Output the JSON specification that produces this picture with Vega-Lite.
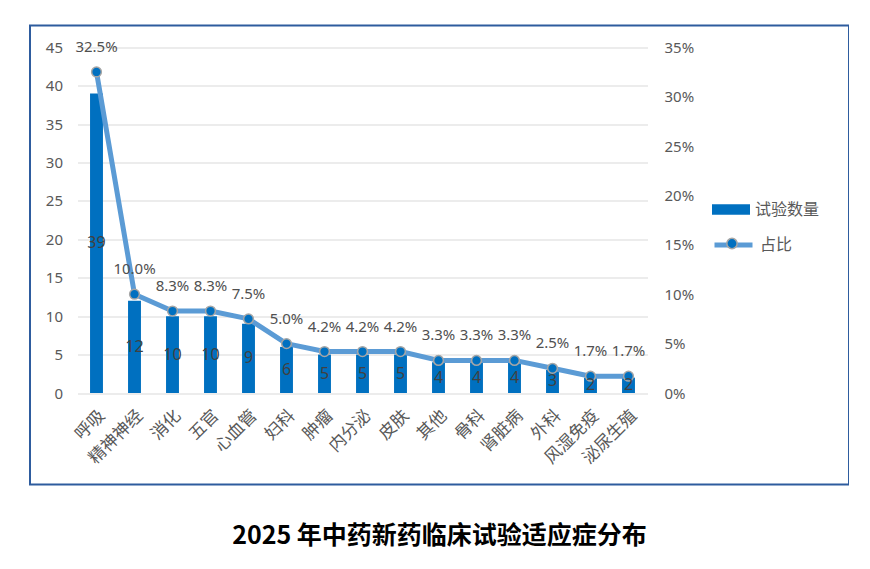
{
  "$schema": "https://vega.github.io/schema/vega-lite/v6.json",
  "width": 819,
  "height": 459,
  "padding": {"left": 30, "top": 25.5, "right": 0, "bottom": 10},
  "background": "white",
  "config": {
    "view": {"stroke": "#2E5C9E", "strokeWidth": 2},
    "font": "Noto Sans, Noto Sans CJK SC"
  },
  "title": {
    "text": "2025 年中药新药临床试验适应症分布",
    "orient": "bottom",
    "anchor": "middle",
    "font": "Noto Sans CJK SC",
    "fontSize": 25,
    "fontWeight": "bold",
    "color": "#000000",
    "offset": 39
  },
  "data": {
    "values": [
      {"cat": "呼吸", "n": 39, "pct": 0.325},
      {"cat": "精神神经", "n": 12, "pct": 0.1},
      {"cat": "消化", "n": 10, "pct": 0.083},
      {"cat": "五官", "n": 10, "pct": 0.083},
      {"cat": "心血管", "n": 9, "pct": 0.075},
      {"cat": "妇科", "n": 6, "pct": 0.05},
      {"cat": "肿瘤", "n": 5, "pct": 0.042},
      {"cat": "内分泌", "n": 5, "pct": 0.042},
      {"cat": "皮肤", "n": 5, "pct": 0.042},
      {"cat": "其他", "n": 4, "pct": 0.033},
      {"cat": "骨科", "n": 4, "pct": 0.033},
      {"cat": "肾脏病", "n": 4, "pct": 0.033},
      {"cat": "外科", "n": 3, "pct": 0.025},
      {"cat": "风湿免疫", "n": 2, "pct": 0.017},
      {"cat": "泌尿生殖", "n": 2, "pct": 0.017}
    ]
  },
  "encoding": {
    "x": {
      "field": "cat",
      "type": "nominal",
      "sort": null,
      "scale": {"range": [47.5, 617.5], "paddingInner": 0, "paddingOuter": 0},
      "axis": {
        "title": null,
        "labelAngle": -45,
        "domain": false,
        "ticks": false,
        "grid": false,
        "offset": -91.5,
        "labelPadding": 14,
        "labelFont": "Noto Sans CJK SC",
        "labelFontSize": 17,
        "labelColor": "#595959"
      }
    }
  },
  "layer": [
    {
      "mark": {"type": "bar", "width": {"band": 0.34}},
      "encoding": {
        "y": {
          "field": "n",
          "type": "quantitative",
          "scale": {"domain": [0, 45], "range": [367.5, 21.8], "nice": false, "zero": true},
          "axis": {
            "title": null,
            "orient": "left",
            "values": [0, 5, 10, 15, 20, 25, 30, 35, 40, 45],
            "offset": -47.5,
            "domain": false,
            "ticks": false,
            "labelPadding": 15,
            "gridColor": "#D9D9D9",
            "gridWidth": 1,
            "labelFontSize": 15,
            "labelColor": "#595959"
          }
        },
        "color": {
          "datum": "试验数量",
          "scale": {"range": ["#0070C0"]},
          "legend": {
            "orient": "none",
            "legendX": 682,
            "legendY": 165,
            "title": null,
            "padding": 0,
            "symbolType": "M-1,-0.27L1,-0.27L1,0.27L-1,0.27Z",
            "symbolSize": 1444,
            "symbolStrokeWidth": 0,
            "labelFont": "Noto Sans CJK SC",
            "labelFontSize": 16,
            "labelColor": "#595959",
            "labelOffset": 5
          }
        }
      }
    },
    {
      "layer": [
        {
          "mark": {"type": "line", "strokeWidth": 5, "strokeCap": "round", "strokeJoin": "round"},
          "encoding": {
            "stroke": {
              "datum": "占比",
              "scale": {"range": ["#5B9BD5"]},
              "legend": {
                "orient": "none",
                "legendX": 682,
                "legendY": 198,
                "title": null,
                "padding": 0,
                "zindex": 1,
                "symbolType": "M-1,0L1,0",
                "symbolSize": 1444,
                "symbolStrokeWidth": 5,
                "labelFont": "Noto Sans CJK SC",
                "labelFontSize": 16,
                "labelColor": "#595959",
                "labelOffset": 5
              }
            }
          }
        },
        {
          "mark": {"type": "point", "filled": true, "size": 95, "stroke": "#A6A6A6", "strokeWidth": 1.5, "opacity": 1},
          "encoding": {
            "fill": {
              "datum": "占比 ",
              "scale": {"range": ["#0070C0"]},
              "legend": {
                "orient": "none",
                "legendX": 682,
                "legendY": 198,
                "title": null,
                "padding": 0,
                "zindex": 2,
                "symbolType": "M-0.27,0A0.27,0.27,0,1,0,0.27,0A0.27,0.27,0,1,0,-0.27,0Z",
                "symbolSize": 1444,
                "symbolStrokeColor": "#A6A6A6",
                "symbolStrokeWidth": 1.5,
                "labelExpr": "''",
                "labelFontSize": 16,
                "labelOffset": 5
              }
            }
          }
        },
        {
          "mark": {"type": "text", "dy": -25, "fontSize": 15, "color": "#505050"},
          "encoding": {
            "text": {"field": "pct", "type": "quantitative", "format": ".1%"}
          }
        }
      ],
      "encoding": {
        "y": {
          "field": "pct",
          "type": "quantitative",
          "scale": {"domain": [0, 0.35], "range": [367.5, 21.8], "nice": false, "zero": true},
          "axis": {
            "title": null,
            "orient": "right",
            "values": [0, 0.05, 0.1, 0.15, 0.2, 0.25, 0.3, 0.35],
            "format": ".0%",
            "offset": -201.5,
            "grid": false,
            "domain": false,
            "ticks": false,
            "labelPadding": 16.5,
            "labelFontSize": 15,
            "labelColor": "#595959"
          }
        }
      }
    },
    {
      "mark": {"type": "text", "fontSize": 16, "color": "#404040", "baseline": "middle"},
      "encoding": {
        "y": {
          "field": "n",
          "type": "quantitative",
          "scale": {"domain": [0, 90], "range": [367.5, 21.8], "nice": false, "zero": true},
          "axis": null
        },
        "text": {"field": "n", "type": "quantitative"}
      }
    }
  ],
  "resolve": {"scale": {"y": "independent"}}
}
